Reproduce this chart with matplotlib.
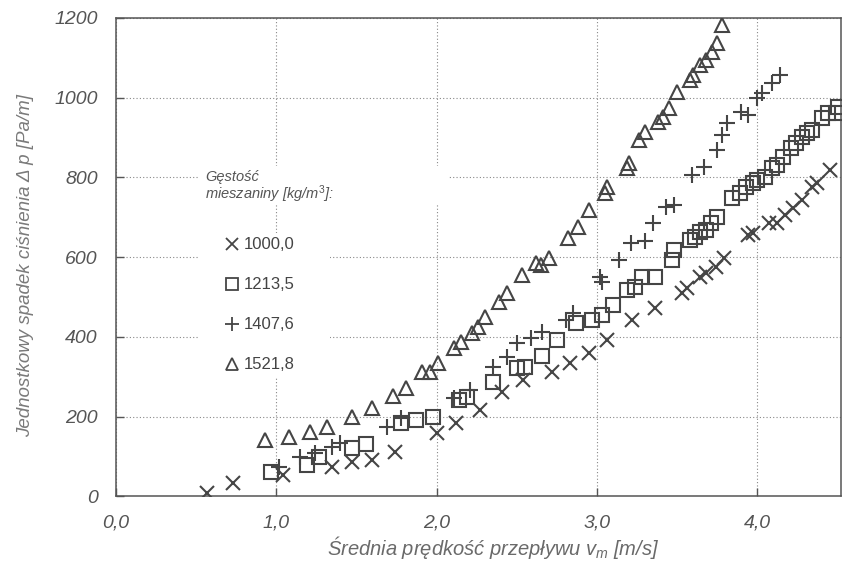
import matplotlib
matplotlib.use("Agg")
import matplotlib.pyplot as plt
from matplotlib.patches import Rectangle

plt.rcParams['font.family'] = ['Liberation Sans', 'DejaVu Sans']
plt.rcParams['mathtext.fontset'] = 'custom'
plt.rcParams['mathtext.rm'] = 'Liberation Sans'
plt.rcParams['mathtext.it'] = 'Liberation Sans:italic'

# gestosc 1000,0
v_1000 = [0.57, 0.73, 1.04, 1.35, 1.47, 1.60, 1.74, 2.00, 2.12, 2.27, 2.41, 2.54, 2.72,
          2.83, 2.95, 3.06, 3.22, 3.36, 3.53, 3.56, 3.64, 3.68, 3.74, 3.79, 3.94, 3.97,
          4.07, 4.12, 4.17, 4.22, 4.28, 4.34, 4.37, 4.45]
dp_1000 = [8, 33, 53, 73, 85, 90, 111, 158, 183, 216, 261, 291, 312,
           334, 359, 392, 442, 472, 510, 523, 550, 560, 575, 598, 656, 661,
           686, 686, 706, 724, 744, 777, 786, 819]

# gestosc 1213,5
v_1213 = [0.97, 1.19, 1.27, 1.47, 1.56, 1.78, 1.87, 1.98, 2.14, 2.19, 2.35, 2.50, 2.55,
          2.66, 2.75, 2.87, 2.97, 3.03, 3.10, 3.19, 3.24, 3.28, 3.36, 3.47, 3.48, 3.58,
          3.61, 3.64, 3.68, 3.71, 3.75, 3.84, 3.89, 3.93, 3.97, 4.00, 4.05, 4.09, 4.12,
          4.16, 4.21, 4.24, 4.28, 4.31, 4.34, 4.40, 4.44, 4.49, 4.50]
dp_1213 = [60, 78, 98, 121, 131, 183, 191, 198, 241, 249, 286, 321, 324,
           352, 392, 435, 442, 455, 480, 518, 525, 550, 550, 593, 618, 643,
           651, 663, 668, 686, 701, 749, 761, 777, 786, 794, 802, 824, 832,
           852, 874, 887, 902, 912, 920, 950, 962, 962, 977]

# gestosc 1407,6
v_1407 = [1.02, 1.15, 1.24, 1.35, 1.40, 1.69, 1.78, 2.11, 2.21, 2.35, 2.44, 2.50, 2.59,
          2.66, 2.81, 2.85, 3.02, 3.03, 3.14, 3.21, 3.30, 3.35, 3.43, 3.48, 3.59, 3.67,
          3.75, 3.78, 3.81, 3.90, 3.94, 4.00, 4.03, 4.09, 4.14]
dp_1407 = [73, 98, 108, 123, 133, 173, 196, 246, 266, 324, 349, 384, 397,
           412, 442, 460, 550, 538, 593, 636, 640, 686, 726, 731, 805, 826,
           869, 907, 937, 965, 957, 998, 1012, 1037, 1058]

# gestosc 1521,8
v_1521 = [0.93, 1.08, 1.21, 1.32, 1.47, 1.60, 1.73, 1.81, 1.91, 1.96, 2.01, 2.11, 2.15,
          2.22, 2.26, 2.30, 2.39, 2.44, 2.53, 2.62, 2.65, 2.70, 2.82, 2.88, 2.95, 3.05,
          3.06, 3.19, 3.20, 3.26, 3.30, 3.38, 3.41, 3.45, 3.50, 3.58, 3.60, 3.64, 3.68,
          3.72, 3.75, 3.78]
dp_1521 = [141, 149, 161, 173, 198, 221, 251, 271, 312, 312, 334, 372, 387,
           410, 425, 450, 487, 510, 555, 585, 580, 598, 648, 676, 719, 761,
           777, 824, 837, 894, 915, 940, 952, 975, 1015, 1045, 1058, 1083, 1095,
           1115, 1138, 1183]

labels = ['1000,0', '1213,5', '1407,6', '1521,8']
x_ticks = [0, 1, 2, 3, 4]
x_ticklabels = ['0,0', '1,0', '2,0', '3,0', '4,0']
y_ticks = [0, 200, 400, 600, 800, 1000, 1200]

mc = '#454545'
fig = plt.figure(figsize=(8.45, 5.62), dpi=100)
ax = fig.add_axes([0.137, 0.117, 0.858, 0.851])

series = [(v_1000, dp_1000, 'x', 10.5), (v_1213, dp_1213, 's', 10),
          (v_1407, dp_1407, '+', 11.5), (v_1521, dp_1521, '^', 10.5)]
for v, dp, m, ms in series:
    ax.plot(v, dp, linestyle='none', marker=m, markersize=ms, markerfacecolor='none',
            markeredgecolor=mc, markeredgewidth=1.5, zorder=3)

ax.set_xlim(0, 4.52)
ax.set_ylim(0, 1200)
ax.set_xticks(x_ticks)
ax.set_xticklabels(x_ticklabels)
ax.set_yticks(y_ticks)
ax.tick_params(direction='in', length=6, width=1, colors='#555555', labelsize=14, pad=13)
for lab in ax.get_xticklabels() + ax.get_yticklabels():
    lab.set_fontstyle('italic')
ax.grid(True, linestyle=(0, (1, 2)), color='#888888', linewidth=0.8)
for s in ax.spines.values():
    s.set_color('#555555')
    s.set_linewidth(1.1)

ax.set_xlabel('Średnia prędkość przepływu $v_{m}$ [m/s]', fontsize=14.5, style='italic',
              color='#6a6a6a', va='center')
ax.xaxis.set_label_coords(0.52, -0.108)
ax.set_ylabel('Jednostkowy spadek ciśnienia Δ p [Pa/m]', fontsize=13.5, style='italic',
              color='#7a7a7a', va='center', ha='center')
ax.yaxis.set_label_coords(-0.125, 0.483)

# white boxes behind the legend text
ax.add_patch(Rectangle((0.115, 0.61), 0.345, 0.08, transform=ax.transAxes,
                       facecolor='white', edgecolor='none', zorder=2))
ax.add_patch(Rectangle((0.115, 0.25), 0.18, 0.30, transform=ax.transAxes,
                       facecolor='white', edgecolor='none', zorder=2))
ax.text(0.123, 0.668, 'Gęstość', transform=ax.transAxes, fontsize=10.5, style='italic',
        color='#555555', va='center', zorder=4)
ax.text(0.123, 0.632, 'mieszaniny [kg/m$^{3}$]:', transform=ax.transAxes, fontsize=10.5,
        style='italic', color='#555555', va='center', zorder=4)
leg_y = [0.527, 0.443, 0.360, 0.276]
for (v, dp, m, ms), lab, yy in zip(series, labels, leg_y):
    ax.plot([0.160], [yy], transform=ax.transAxes, linestyle='none', marker=m,
            markersize=ms * 0.85, markerfacecolor='none', markeredgecolor=mc,
            markeredgewidth=1.3, zorder=4, clip_on=False)
    ax.text(0.177, yy, lab, transform=ax.transAxes, fontsize=12, color='#444444',
            va='center', zorder=4)

fig.savefig('out.png', dpi=100)
